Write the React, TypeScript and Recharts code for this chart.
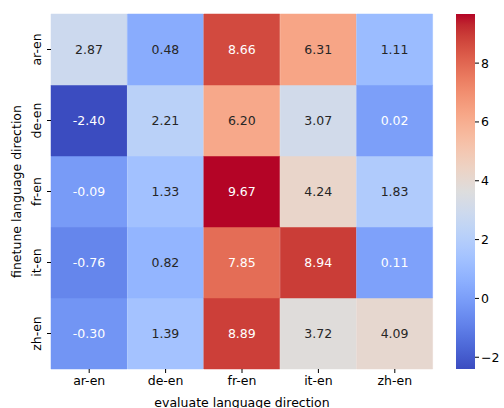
import { BarChart, Bar, XAxis, YAxis, Cell, LabelList, Label } from 'recharts';

// evaluate directions on x, finetune directions on y (top to bottom)
const evalDirs = ['ar-en', 'de-en', 'fr-en', 'it-en', 'zh-en'];
const finetuneDirs = ['ar-en', 'de-en', 'fr-en', 'it-en', 'zh-en'];

const arEnRow = [2.87, 0.48, 8.66, 6.31, 1.11];
const deEnRow = [-2.4, 2.21, 6.2, 3.07, 0.02];
const frEnRow = [-0.09, 1.33, 9.67, 4.24, 1.83];
const itEnRow = [-0.76, 0.82, 7.85, 8.94, 0.11];
const zhEnRow = [-0.3, 1.39, 8.89, 3.72, 4.09];
const rows = [arEnRow, deEnRow, frEnRow, itEnRow, zhEnRow];

const colorbarTicks = [-2, 0, 2, 4, 6, 8];

const allVals = rows.flat();
const vmin = Math.min(...allVals);
const vmax = Math.max(...allVals);

// matplotlib coolwarm, 33 samples
const COOLWARM = [
  [59, 76, 192], [68, 90, 204], [77, 104, 215], [87, 117, 225], [98, 130, 234],
  [108, 142, 241], [119, 154, 247], [130, 165, 251], [141, 176, 254], [152, 185, 255],
  [163, 194, 255], [174, 201, 253], [184, 208, 249], [194, 213, 244], [204, 217, 238],
  [213, 219, 230], [221, 221, 221], [229, 216, 209], [236, 211, 197], [241, 204, 185],
  [245, 196, 173], [247, 187, 160], [247, 177, 148], [247, 166, 135], [244, 154, 123],
  [241, 141, 111], [236, 127, 99], [229, 112, 88], [222, 96, 77], [213, 80, 66],
  [203, 62, 56], [192, 40, 47], [180, 4, 38]
];

function coolwarmRgb(t: number) {
  const c = Math.max(0, Math.min(1, t)) * (COOLWARM.length - 1);
  const i = Math.min(Math.floor(c), COOLWARM.length - 2);
  const f = c - i;
  return COOLWARM[i].map((a, k) => a + (COOLWARM[i + 1][k] - a) * f);
}

const rgbStr = (c: number[]) => `rgb(${c.map((v) => Math.round(v)).join(',')})`;
const norm = (v: number) => (v - vmin) / (vmax - vmin);

// same rule seaborn uses to pick annotation colour
function textColor(c: number[]) {
  const lin = c.map((v) => {
    const s = v / 255;
    return s <= 0.03928 ? s / 12.92 : Math.pow((s + 0.055) / 1.055, 2.4);
  });
  const lum = 0.2126 * lin[0] + 0.7152 * lin[1] + 0.0722 * lin[2];
  return lum > 0.408 ? '#262626' : '#ffffff';
}

const FONT = "'DejaVu Sans', sans-serif";
const FS = 12.5;

// each cell is one unit of a stack
const heatData = evalDirs.map((e) => {
  const d: Record<string, any> = { evalDir: e };
  finetuneDirs.forEach((f) => (d[f] = 1));
  return d;
});

const cbData = [{ name: 'cb', range: [vmin, vmax] }];

const YTick = (props: any) => {
  const { x, y, payload } = props;
  const label = finetuneDirs[finetuneDirs.length - 1 - Math.floor(payload.value)];
  const bx = x - 4;
  return (
    <text
      x={bx}
      y={y}
      transform={`rotate(-90, ${bx}, ${y})`}
      textAnchor="middle"
      fontFamily={FONT}
      fontSize={FS}
      fill="#000"
    >
      {label}
    </text>
  );
};

export default function App() {
  return (
    <div style={{ position: 'absolute', left: 0, top: 0, width: 504, height: 408, background: '#fff' }}>
      <div style={{ position: 'absolute', left: 0, top: 0 }}>
        <BarChart
          width={504}
          height={408}
          data={heatData}
          margin={{ top: 14, right: 71, bottom: 9, left: 11 }}
          barCategoryGap={0}
        >
          <XAxis
            dataKey="evalDir"
            type="category"
            height={30}
            axisLine={false}
            tickSize={4}
            tickMargin={3}
            tickLine={{ stroke: '#000' }}
            tick={{ fontFamily: FONT, fontSize: FS, fill: '#000' }}
            interval={0}
          >
            <Label
              content={(p: any) => (
                <text
                  x={p.viewBox.x + p.viewBox.width / 2}
                  y={p.viewBox.y + 38}
                  textAnchor="middle"
                  fontFamily={FONT}
                  fontSize={FS}
                  fill="#000"
                >
                  evaluate language direction
                </text>
              )}
            />
          </XAxis>
          <YAxis
            type="number"
            domain={[0, 5]}
            ticks={[0.5, 1.5, 2.5, 3.5, 4.5]}
            width={40}
            axisLine={false}
            tickSize={4}
            tickLine={{ stroke: '#000' }}
            tick={<YTick />}
          >
            <Label
              content={(p: any) => {
                const x = p.viewBox.x + 10;
                const y = p.viewBox.y + p.viewBox.height / 2;
                return (
                  <text
                    x={x}
                    y={y}
                    transform={`rotate(-90, ${x}, ${y})`}
                    textAnchor="middle"
                    fontFamily={FONT}
                    fontSize={FS}
                    fill="#000"
                  >
                    finetune language direction
                  </text>
                );
              }}
            />
          </YAxis>
          {finetuneDirs
            .map((f, i) => ({ f, i }))
            .reverse()
            .map(({ f, i }) => (
              <Bar key={f} dataKey={f} stackId="heat" isAnimationActive={false}>
                {rows[i].map((v, j) => {
                  const fill = rgbStr(coolwarmRgb(norm(v)));
                  return <Cell key={j} fill={fill} stroke={fill} strokeWidth={0.5} />;
                })}
                <LabelList
                  dataKey={f}
                  content={(p: any) => {
                    const v = rows[i][p.index];
                    return (
                      <text
                        x={p.x + p.width / 2}
                        y={p.y + p.height / 2}
                        dy="0.35em"
                        textAnchor="middle"
                        fontFamily={FONT}
                        fontSize={FS}
                        fill={textColor(coolwarmRgb(norm(v)))}
                      >
                        {v.toFixed(2)}
                      </text>
                    );
                  }}
                />
              </Bar>
            ))}
        </BarChart>
      </div>
      <div style={{ position: 'absolute', left: 456, top: 0 }}>
        <BarChart
          width={48}
          height={408}
          data={cbData}
          margin={{ top: 14, right: 0, bottom: 39, left: 0 }}
          barCategoryGap={0}
        >
          <defs>
            <linearGradient id="cbGrad" x1="0" y1="0" x2="0" y2="1">
              {COOLWARM.map((_, k) => (
                <stop
                  key={k}
                  offset={`${(k / (COOLWARM.length - 1)) * 100}%`}
                  stopColor={rgbStr(COOLWARM[COOLWARM.length - 1 - k])}
                />
              ))}
            </linearGradient>
          </defs>
          <XAxis dataKey="name" hide />
          <YAxis
            orientation="right"
            type="number"
            domain={[vmin, vmax]}
            allowDataOverflow
            ticks={colorbarTicks}
            width={29}
            axisLine={false}
            tickSize={4}
            tickLine={{ stroke: '#000' }}
            tick={{ fontFamily: FONT, fontSize: FS, fill: '#000' }}
            tickFormatter={(v: number) => String(v).replace('-', '\u2212')}
          />
          <Bar dataKey="range" fill="url(#cbGrad)" isAnimationActive={false} />
        </BarChart>
      </div>
    </div>
  );
}
